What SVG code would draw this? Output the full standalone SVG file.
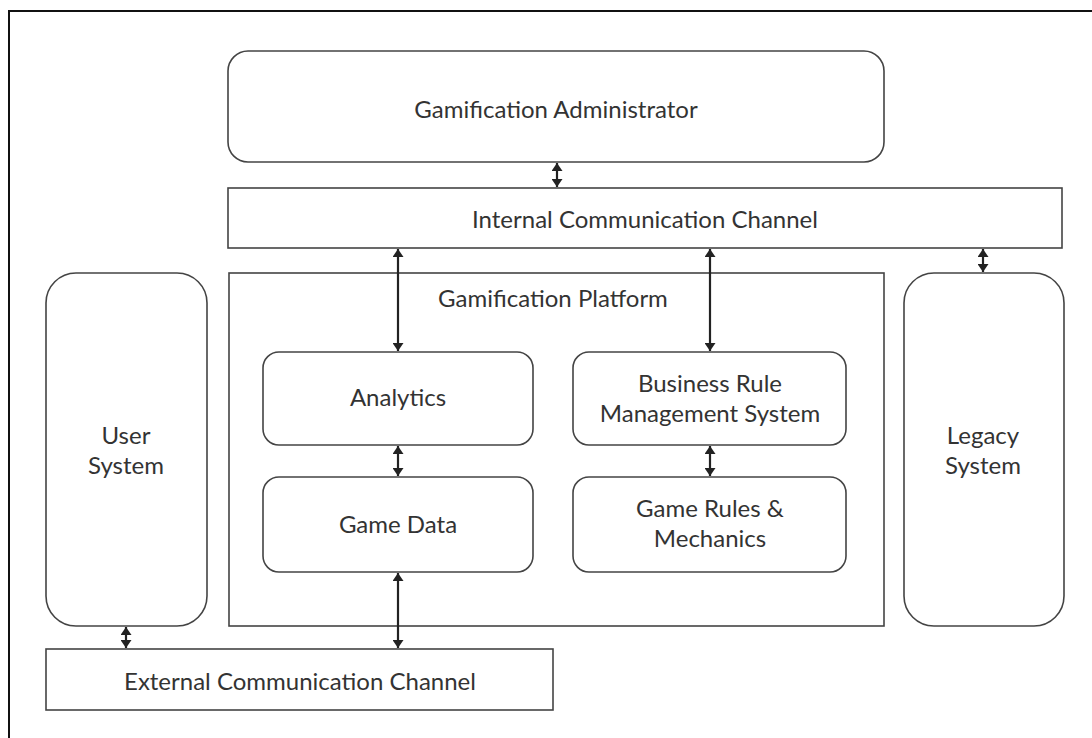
<svg xmlns="http://www.w3.org/2000/svg" width="1092" height="738" viewBox="0 0 1092 738">
  <defs>
    <marker id="head" viewBox="0 0 10 10" refX="10" refY="5" markerWidth="8" markerHeight="11" markerUnits="userSpaceOnUse" orient="auto-start-reverse" preserveAspectRatio="none">
      <path d="M0,0 L10,5 L0,10 Z" fill="#222"/>
    </marker>
    <style>
      .box { fill: #fff; stroke: #444; stroke-width: 1.6; }
      .label { font-family: Lato, "Open Sans", "Liberation Sans", sans-serif; font-size: 24px; fill: #333; text-anchor: middle; }
      .link { stroke: #222; stroke-width: 2.2; fill: none; marker-start: url(#head); marker-end: url(#head); }
    </style>
  </defs>

  <rect width="1092" height="738" fill="#fff"/>
  <!-- outer frame -->
  <rect x="9" y="11" width="1120" height="800" fill="none" stroke="#111" stroke-width="2"/>

  <g id="admin">
    <rect class="box" x="228" y="51" width="656" height="111" rx="20"/>
    <text class="label" x="556" y="118">Gamification Administrator</text>
  </g>

  <g id="internal-channel">
    <rect class="box" x="228" y="188" width="834" height="60"/>
    <text class="label" x="645" y="228">Internal Communication Channel</text>
  </g>

  <g id="platform">
    <rect class="box" x="229" y="273" width="655" height="353"/>
    <text class="label" x="553" y="307">Gamification Platform</text>
  </g>

  <g id="user-system">
    <rect class="box" x="46" y="273" width="161" height="353" rx="30"/>
    <text class="label" x="126" y="444">User</text>
    <text class="label" x="126" y="474">System</text>
  </g>

  <g id="legacy-system">
    <rect class="box" x="904" y="273" width="160" height="353" rx="30"/>
    <text class="label" x="983" y="444">Legacy</text>
    <text class="label" x="983" y="474">System</text>
  </g>

  <g id="analytics">
    <rect class="box" x="263" y="352" width="270" height="93" rx="16"/>
    <text class="label" x="398" y="406">Analytics</text>
  </g>

  <g id="game-data">
    <rect class="box" x="263" y="477" width="270" height="95" rx="16"/>
    <text class="label" x="398" y="533">Game Data</text>
  </g>

  <g id="brms">
    <rect class="box" x="573" y="352" width="273" height="93" rx="16"/>
    <text class="label" x="710" y="392">Business Rule</text>
    <text class="label" x="710" y="422">Management System</text>
  </g>

  <g id="game-rules">
    <rect class="box" x="573" y="477" width="273" height="95" rx="16"/>
    <text class="label" x="710" y="517">Game Rules &amp;</text>
    <text class="label" x="710" y="547">Mechanics</text>
  </g>

  <g id="external-channel">
    <rect class="box" x="46" y="649" width="507" height="61"/>
    <text class="label" x="300" y="690">External Communication Channel</text>
  </g>

  <g id="connectors">
    <line class="link" x1="557" y1="163" x2="557" y2="187"/>
    <line class="link" x1="398" y1="249" x2="398" y2="351"/>
    <line class="link" x1="710" y1="249" x2="710" y2="351"/>
    <line class="link" x1="983" y1="249" x2="983" y2="272"/>
    <line class="link" x1="398" y1="446" x2="398" y2="476"/>
    <line class="link" x1="710" y1="446" x2="710" y2="476"/>
    <line class="link" x1="398" y1="573" x2="398" y2="648"/>
    <line class="link" x1="126" y1="627" x2="126" y2="648"/>
  </g>
</svg>
